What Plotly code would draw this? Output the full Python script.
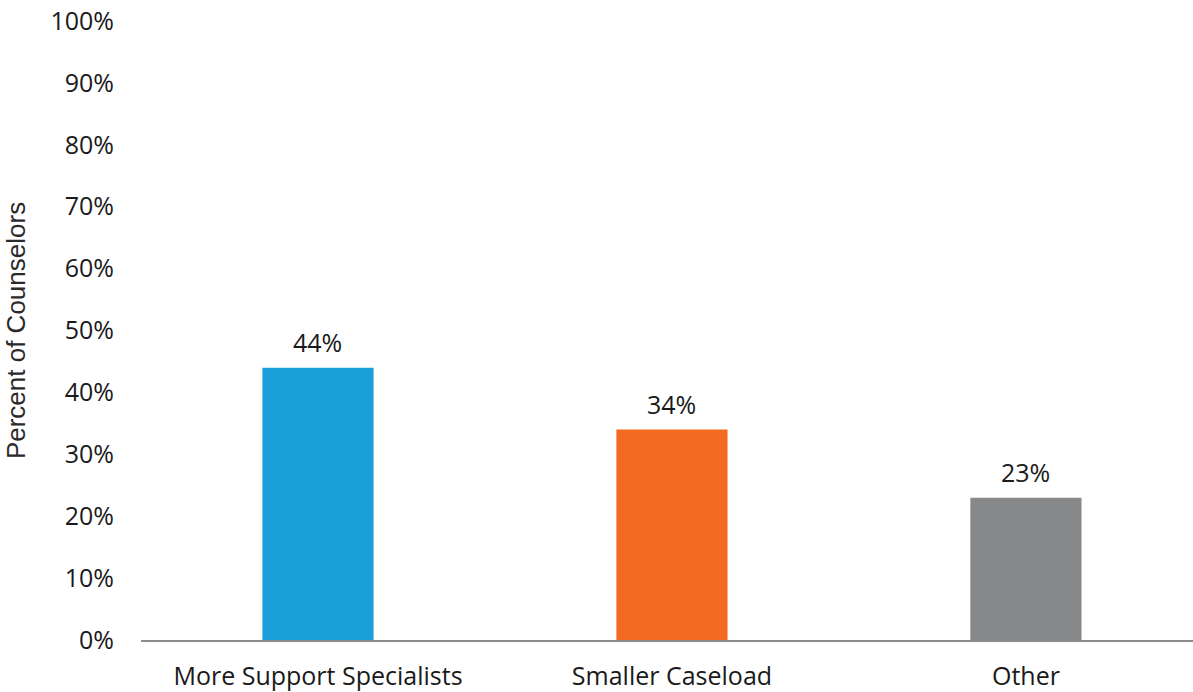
import plotly.graph_objects as go

# Survey responses
categories = ["More Support Specialists", "Smaller Caseload", "Other"]
percent = [44, 34, 23]
bar_colors = ["#1a9fd9", "#f26b21", "#87888a"]
y_ticks = list(range(0, 101, 10))
y_tick_labels = [f"{t}%" for t in y_ticks]

FONT = "Open Sans, sans-serif"
TEXT_COLOR = "#1a1a1a"
SIZE = 25

fig = go.Figure(
    go.Bar(
        x=categories,
        y=percent,
        marker=dict(color=bar_colors, line=dict(width=0)),
        width=0.314,
        hoverinfo="skip",
    )
)

# Value labels above each bar
for c, v in zip(categories, percent):
    fig.add_annotation(
        x=c, y=v, text=f"{v}%", showarrow=False,
        yanchor="bottom", yshift=7,
        font=dict(family=FONT, size=SIZE, color=TEXT_COLOR),
    )

fig.update_layout(
    width=1193,
    height=692,
    margin=dict(l=141, r=0, t=21, b=52),
    paper_bgcolor="white",
    plot_bgcolor="white",
    showlegend=False,
    font=dict(family=FONT, size=SIZE, color=TEXT_COLOR),
)

fig.update_xaxes(
    type="category",
    range=[-0.5, 2.472],
    showgrid=False,
    showline=True,
    linecolor="#8c8c8c",
    linewidth=2,
    ticks="",
    ticklabelstandoff=13,
    tickfont=dict(family=FONT, size=SIZE, color=TEXT_COLOR),
    zeroline=False,
)

fig.update_yaxes(
    range=[0, 100],
    tickvals=y_ticks,
    ticktext=y_tick_labels,
    showgrid=False,
    showline=False,
    zeroline=False,
    ticks="",
    ticklabelstandoff=26,
    tickfont=dict(family=FONT, size=SIZE, color=TEXT_COLOR),
    title=dict(
        text="Percent of Counselors",
        font=dict(family="Liberation Sans, Arial, sans-serif", size=26, color="#2a2a2a"),
        standoff=17,
    ),
)

fig.write_html("out.html")
